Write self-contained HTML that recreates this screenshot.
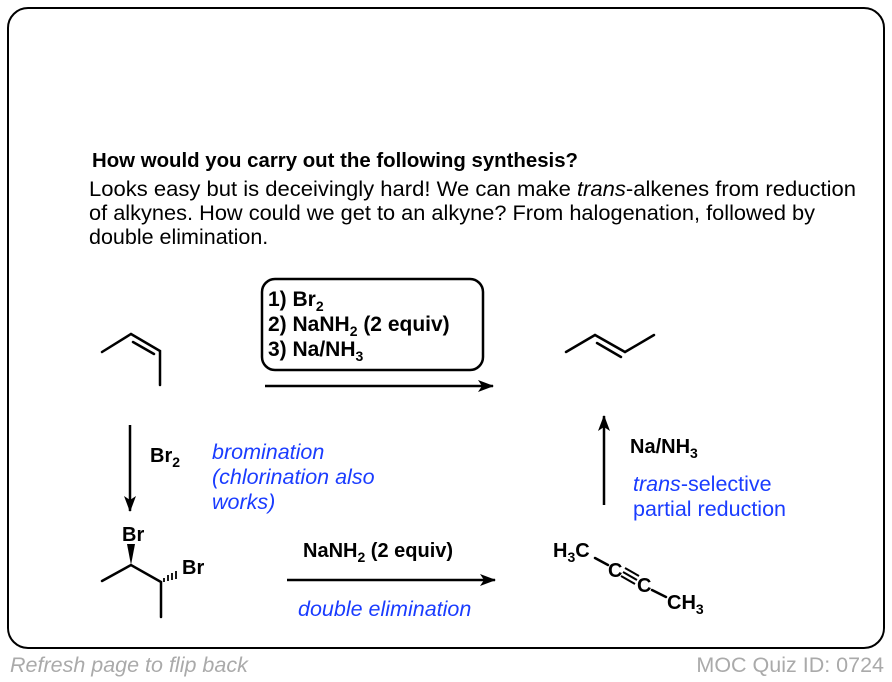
<!DOCTYPE html>
<html><head><meta charset="utf-8"><style>
html,body{margin:0;padding:0;background:#fff;}
svg{display:block;font-family:"Liberation Sans",Arial,sans-serif;}
.b{font-weight:bold;font-size:20px;}
.bx{font-weight:bold;font-size:21px;}
.bl{fill:#1a3cff;font-style:italic;font-size:21.5px;}
</style></head><body>
<svg width="892" height="682" viewBox="0 0 892 682" xmlns="http://www.w3.org/2000/svg">
<defs><marker id="ah" markerWidth="16" markerHeight="12" refX="15" refY="6" orient="auto" markerUnits="userSpaceOnUse"><path d="M0,0 L16,6 L0,12 L4,6 Z" fill="#000"/></marker></defs>
<rect x="8" y="8" width="876" height="640" rx="20" fill="#fff" stroke="#000" stroke-width="2"/>
<text x="92" y="167" font-weight="bold" font-size="20" textLength="486" lengthAdjust="spacingAndGlyphs">How would you carry out the following synthesis?</text>
<text x="89" y="196" font-size="21.5" textLength="767" lengthAdjust="spacingAndGlyphs">Looks easy but is deceivingly hard! We can make <tspan font-style="italic">trans</tspan>-alkenes from reduction</text>
<text x="89" y="220" font-size="21.5" textLength="726" lengthAdjust="spacingAndGlyphs">of alkynes. How could we get to an alkyne? From halogenation, followed by</text>
<text x="89" y="244" font-size="21.5">double elimination.</text>
<g stroke="#000" stroke-width="2.5" fill="none" stroke-linecap="round">
<polyline points="102,352 131,334 160,351 160,385"/>
<line x1="133" y1="342" x2="154" y2="354"/>
<polyline points="566,352 595,335 625,352 654,335"/>
<line x1="597" y1="343" x2="621" y2="357"/>
<polyline points="102,581 131,565 161,582 161,617"/>
<line x1="595" y1="558" x2="608" y2="565"/>
<line x1="652" y1="590" x2="666" y2="597"/>
</g>
<path d="M131,565 L127,544 L135,544 Z" fill="#000"/>
<g stroke="#000" stroke-width="1.8"><line x1="164" y1="578" x2="164" y2="582"/><line x1="168" y1="575" x2="168" y2="581"/><line x1="172" y1="573" x2="172" y2="580"/><line x1="176" y1="571" x2="176" y2="579"/></g>
<text x="122" y="541" class="b">Br</text>
<text x="182" y="574" class="b">Br</text>
<rect x="262" y="279" width="221" height="91" rx="13" fill="none" stroke="#000" stroke-width="2.5"/>
<text x="268" y="306" class="bx">1) Br<tspan font-size="14" dy="5">2</tspan></text>
<text x="268" y="331" class="bx">2) NaNH<tspan font-size="14" dy="5">2</tspan><tspan dy="-5"> (2 equiv)</tspan></text>
<text x="268" y="356" class="bx">3) Na/NH<tspan font-size="14" dy="5">3</tspan></text>
<g stroke="#000" stroke-width="2.5">
<line x1="265" y1="386" x2="493" y2="386" marker-end="url(#ah)"/>
<line x1="130" y1="425" x2="130" y2="511" marker-end="url(#ah)"/>
<line x1="287" y1="580" x2="495" y2="580" marker-end="url(#ah)"/>
<line x1="604" y1="505" x2="604" y2="416" marker-end="url(#ah)"/>
</g>
<text x="150" y="462" class="b">Br<tspan font-size="14" dy="5">2</tspan></text>
<text x="212" y="459" class="bl">bromination</text>
<text x="212" y="484" class="bl">(chlorination also</text>
<text x="212" y="509" class="bl">works)</text>
<text x="303" y="557" class="b">NaNH<tspan font-size="14" dy="5">2</tspan><tspan dy="-5"> (2 equiv)</tspan></text>
<text x="298" y="616" class="bl">double elimination</text>
<text x="553" y="557" class="b">H<tspan font-size="14" dy="5">3</tspan><tspan dy="-5">C</tspan></text>
<text x="608" y="577" class="b">C</text>
<text x="637" y="592" class="b">C</text>
<g stroke="#000" stroke-width="2"><line x1="623" y1="572" x2="637" y2="580"/><line x1="625" y1="568" x2="639" y2="576"/><line x1="621" y1="576" x2="635" y2="584"/></g>
<text x="667" y="609" class="b">CH<tspan font-size="14" dy="5">3</tspan></text>
<text x="630" y="453" class="b">Na/NH<tspan font-size="14" dy="5">3</tspan></text>
<text x="633" y="491" class="bl"><tspan font-style="italic">trans</tspan><tspan font-style="normal">-selective</tspan></text>
<text x="633" y="516" class="bl" style="font-style:normal">partial reduction</text>
<text x="10" y="672" font-size="21.5" font-style="italic" fill="#aaa">Refresh page to flip back</text>
<text x="884" y="672" font-size="21.5" fill="#aaa" text-anchor="end">MOC Quiz ID: 0724</text>
</svg>
</body></html>
